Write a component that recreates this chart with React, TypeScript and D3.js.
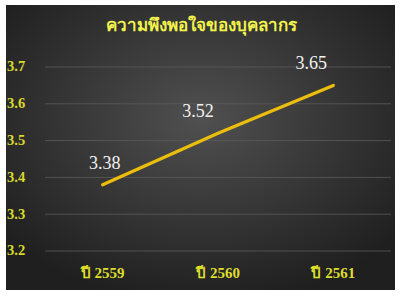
import { useRef, useEffect } from "react";
import * as d3 from "d3";

const TITLE = "ความพึงพอใจของบุคลากร";
const years = ["ปี 2559", "ปี 2560", "ปี 2561"];
const scores = [3.38, 3.52, 3.65];
const yTicks = [3.2, 3.3, 3.4, 3.5, 3.6, 3.7];

const W = 401;
const H = 297;
const FRAME = { x: 6, y: 5, w: 389, h: 285 };
const PLOT = { left: 45, right: 391, top: 67, bottom: 251 };
const SERIF = "Times New Roman, Liberation Serif, DejaVu Serif, serif";
// label nudges relative to each point (px)
const LABEL_DX = [2, -20, -22];
const LABEL_DY = [-16, -16, -16];

export default function App() {
  const svgRef = useRef<SVGSVGElement>(null);

  useEffect(() => {
    if (!svgRef.current) return;
    const svg = d3.select(svgRef.current);
    svg.selectAll("*").remove();

    const defs = svg.append("defs");
    const grad = defs.append("radialGradient")
      .attr("id", "bg")
      .attr("cx", "50%").attr("cy", "40%").attr("r", "65%");
    grad.append("stop").attr("offset", "0%").attr("stop-color", "#505050");
    grad.append("stop").attr("offset", "100%").attr("stop-color", "#1f1f1f");

    svg.append("rect").attr("width", W).attr("height", H).attr("fill", "#ffffff");
    svg.append("rect")
      .attr("x", FRAME.x).attr("y", FRAME.y)
      .attr("width", FRAME.w).attr("height", FRAME.h)
      .attr("fill", "url(#bg)");

    const x = d3.scaleBand<string>().domain(years).range([PLOT.left, PLOT.right]);
    const y = d3.scaleLinear().domain([3.2, 3.7]).range([PLOT.bottom, PLOT.top]);

    // Gridlines
    svg.append("g")
      .selectAll("line")
      .data(yTicks)
      .join("line")
      .attr("x1", PLOT.left).attr("x2", PLOT.right)
      .attr("y1", (d) => y(d)).attr("y2", (d) => y(d))
      .attr("stroke", "#5c5c5c").attr("stroke-width", 0.8);

    // Y tick labels
    svg.append("g")
      .selectAll("text")
      .data(yTicks)
      .join("text")
      .attr("x", 7).attr("y", (d) => y(d) + 1)
      .attr("dominant-baseline", "middle")
      .attr("fill", "#d9d92a")
      .attr("font-family", SERIF)
      .attr("font-weight", "bold")
      .attr("font-size", 14.5)
      .text((d) => d.toFixed(1));

    // X labels
    svg.append("g")
      .selectAll("text")
      .data(years)
      .join("text")
      .attr("x", (d) => x(d)! + x.bandwidth() / 2)
      .attr("y", 275)
      .attr("text-anchor", "middle")
      .attr("dominant-baseline", "middle")
      .attr("fill", "#dede2c")
      .attr("font-family", SERIF)
      .attr("font-weight", "bold")
      .attr("font-size", 15)
      .text((d) => d);

    // Line
    const pts = years.map((yr, i) => ({ yr, v: scores[i] }));
    const line = d3.line<{ yr: string; v: number }>()
      .x((d) => x(d.yr)! + x.bandwidth() / 2)
      .y((d) => y(d.v));
    svg.append("path")
      .datum(pts)
      .attr("fill", "none")
      .attr("stroke", "#ebbd0c")
      .attr("stroke-width", 3.2)
      .attr("stroke-linecap", "round")
      .attr("d", line);

    // Data labels
    svg.append("g")
      .selectAll("text")
      .data(pts)
      .join("text")
      .attr("x", (d, i) => x(d.yr)! + x.bandwidth() / 2 + LABEL_DX[i])
      .attr("y", (d, i) => y(d.v) + LABEL_DY[i])
      .attr("text-anchor", "middle")
      .attr("fill", "#f2f2f2")
      .attr("font-family", SERIF)
      .attr("font-size", 18)
      .text((d) => d.v.toFixed(2));

    // Title
    svg.append("text")
      .attr("x", 201).attr("y", 31)
      .attr("text-anchor", "middle")
      .attr("fill", "#f2f24c")
      .attr("font-family", "Noto Sans, DejaVu Sans, sans-serif")
      .attr("font-weight", "bold")
      .attr("font-size", 17)
      .text(TITLE);
  }, []);

  return (
    <svg
      ref={svgRef}
      width={W}
      height={H}
      style={{ position: "absolute", left: 0, top: 0, display: "block" }}
    />
  );
}
